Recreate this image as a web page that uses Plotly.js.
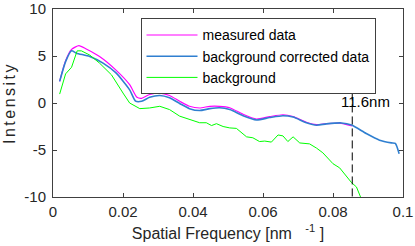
<!DOCTYPE html>
<html>
<head>
<meta charset="utf-8">
<script src="https://cdn.plot.ly/plotly-3.0.1.min.js"></script>
<style>
html,body{margin:0;padding:0;background:#fff;}
#chart{width:415px;height:246px;}
#chart .ytitle{letter-spacing:2.5px;}
</style>
</head>
<body>
<div id="chart"></div>
<script>
// Measured data (magenta)
var measuredX = [0.0019, 0.0036, 0.0053, 0.0074, 0.0095, 0.0133, 0.018, 0.0219, 0.024, 0.0253, 0.0276, 0.0305, 0.0333, 0.0362, 0.039, 0.0419, 0.0448, 0.0476, 0.0505, 0.0543, 0.0581, 0.0619, 0.0657, 0.0686, 0.0724, 0.0753, 0.0781, 0.0819, 0.0855];
var measuredY = [2.3, 4.5, 5.7, 6.1, 5.75, 4.95, 3.5, 1.95, 0.6, 0.5, 0.9, 1.06, 0.8, 0.18, -0.35, -0.53, -0.35, -0.35, -0.5, -1.2, -1.7, -1.45, -1.25, -1.45, -2.05, -2.3, -2.2, -2.15, -2.45];

// Background corrected data (blue)
var correctedX = [0.0019, 0.0036, 0.0053, 0.0067, 0.0105, 0.0143, 0.018, 0.0219, 0.0236, 0.0253, 0.0276, 0.0305, 0.0333, 0.0362, 0.039, 0.0419, 0.0448, 0.0476, 0.0505, 0.0543, 0.0581, 0.0619, 0.0657, 0.0686, 0.0724, 0.0753, 0.0781, 0.0824, 0.0853, 0.0895, 0.0933, 0.0967, 0.0978, 0.0989];
var correctedY = [2.3, 4.4, 5.55, 5.3, 4.95, 4.24, 3.2, 1.4, 0.2, 0.18, 0.6, 0.8, 0.55, -0.05, -0.6, -0.8, -0.6, -0.5, -0.7, -1.35, -1.8, -1.55, -1.35, -1.5, -2.1, -2.36, -2.22, -2.12, -2.35, -3.25, -3.95, -4.24, -4.3, -5.4];

// Background (green)
var backgroundX = [0.0019, 0.0036, 0.0053, 0.0069, 0.0081, 0.0105, 0.0133, 0.0167, 0.020, 0.0219, 0.0248, 0.0276, 0.0305, 0.0333, 0.0362, 0.039, 0.0419, 0.0438, 0.0453, 0.0467, 0.0486, 0.0505, 0.0524, 0.0553, 0.0571, 0.059, 0.0605, 0.0624, 0.0643, 0.0657, 0.0671, 0.0686, 0.0705, 0.0733, 0.0753, 0.0771, 0.080, 0.0819, 0.0838, 0.0853, 0.0867, 0.0882];
var backgroundY = [0.95, 3.1, 3.8, 5.55, 5.55, 5.1, 4.24, 3.0, 1.06, 0.0, -0.6, -0.53, -0.35, -0.7, -1.4, -1.76, -2.1, -2.1, -2.4, -2.2, -2.5, -2.65, -2.7, -3.6, -3.7, -4.1, -4.05, -4.16, -3.4, -3.5, -4.1, -3.6, -4.25, -4.35, -4.8, -5.3, -6.46, -6.9, -7.76, -8.47, -8.93, -10.3];

// Cutoff marker
var cutoffX = [0.0855, 0.0855];
var cutoffY = [2.4, -10];
var cutoffLabel = '11.6nm';
var cutoffLabelX = 0.0893;
var cutoffLabelY = 0.2;

var seriesNames = ['measured data', 'background corrected data', 'background'];
var xTickVals = [0, 0.02, 0.04, 0.06, 0.08, 0.1];
var xTickText = ['0', '0.02', '0.04', '0.06', '0.08', '0.1'];
var yTickVals = [-10, -5, 0, 5, 10];
var yTickText = ['-10', '-5', '0', '5', '10'];

var traces = [
  {x: measuredX, y: measuredY, name: seriesNames[0], type: 'scatter', mode: 'lines',
   line: {color: '#ff00ff', width: 1.2, shape: 'spline', smoothing: 0.6}},
  {x: correctedX, y: correctedY, name: seriesNames[1], type: 'scatter', mode: 'lines',
   line: {color: '#2f7fd0', width: 1.6, shape: 'spline', smoothing: 0.6}},
  {x: backgroundX, y: backgroundY, name: seriesNames[2], type: 'scatter', mode: 'lines',
   line: {color: '#00ff00', width: 1}},
  {x: cutoffX, y: cutoffY, type: 'scatter', mode: 'lines', showlegend: false, hoverinfo: 'skip',
   line: {color: '#000000', width: 1, dash: '8px,4px'}}
];

var axisCommon = {
  showline: true, linecolor: '#404040', linewidth: 1, mirror: 'ticks',
  ticks: 'inside', ticklen: 4, tickcolor: '#404040', tickwidth: 1,
  showgrid: false, zeroline: false, ticklabeloverflow: 'allow',
  tickfont: {family: 'Liberation Sans, Arial, sans-serif', size: 15, color: '#262626'}
};

var layout = {
  width: 415, height: 246,
  margin: {l: 53, r: 12, t: 9, b: 49},
  paper_bgcolor: '#ffffff', plot_bgcolor: '#ffffff',
  font: {family: 'Liberation Sans, Arial, sans-serif', color: '#262626'},
  showlegend: true,
  legend: {x: 0.25, y: 0.95, xanchor: 'left', yanchor: 'top',
    bgcolor: '#ffffff', bordercolor: '#404040', borderwidth: 1,
    font: {size: 14, color: '#000000'}, itemwidth: 51, tracegroupgap: 0,
    entrywidth: 246, entrywidthmode: 'pixels'},
  xaxis: Object.assign({}, axisCommon, {
    range: [0, 0.1], tickmode: 'array', tickvals: xTickVals, ticktext: xTickText,
    ticklabelstandoff: 1,
    title: {text: 'Spatial Frequency [nm&nbsp;&nbsp;&nbsp;<sup>-1</sup>&nbsp;]', font: {size: 16, color: '#262626'}, standoff: 8}
  }),
  yaxis: Object.assign({}, axisCommon, {
    range: [-10, 10], tickmode: 'array', tickvals: yTickVals, ticktext: yTickText,
    ticklabelstandoff: 3,
    title: {text: 'Intensity', font: {size: 16, color: '#262626'}, standoff: 4}
  }),
  annotations: [{x: cutoffLabelX, y: cutoffLabelY, xref: 'x', yref: 'y', text: cutoffLabel,
    showarrow: false, font: {size: 15, color: '#000000'}, xanchor: 'center', yanchor: 'middle'}]
};

Plotly.newPlot('chart', traces, layout, {displayModeBar: false, staticPlot: true});
</script>
</body>
</html>
